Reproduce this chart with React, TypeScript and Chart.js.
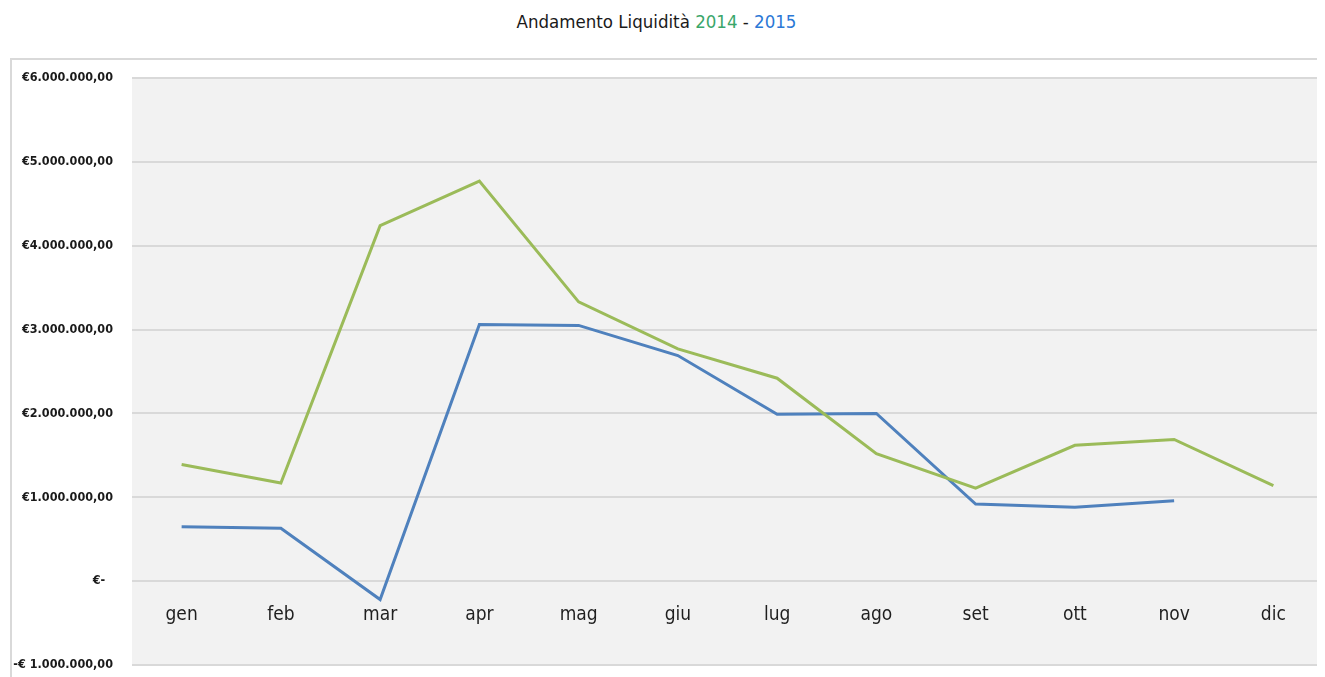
import { useEffect, useRef } from 'react';
import { Chart, registerables } from 'chart.js';

Chart.register(...registerables);

const categories = ['gen', 'feb', 'mar', 'apr', 'mag', 'giu', 'lug', 'ago', 'set', 'ott', 'nov', 'dic'];
const liquidity2014 = [1390000, 1170000, 4240000, 4770000, 3330000, 2770000, 2420000, 1520000, 1110000, 1620000, 1690000, 1140000];
const liquidity2015 = [650000, 630000, -220000, 3060000, 3050000, 2690000, 1990000, 2000000, 920000, 880000, 960000, null];
const yTickValues = [-1000000, 0, 1000000, 2000000, 3000000, 4000000, 5000000, 6000000];
const yTickLabels = ['-€ 1.000.000,00', '€-  ', '€1.000.000,00', '€2.000.000,00', '€3.000.000,00', '€4.000.000,00', '€5.000.000,00', '€6.000.000,00'];

const FONT = '"DejaVu Sans Condensed", "DejaVu Sans", sans-serif';

const plotBackground = {
  id: 'plotBackground',
  beforeDraw(chart: any) {
    const { ctx, chartArea } = chart;
    ctx.save();
    ctx.fillStyle = '#f2f2f2';
    ctx.fillRect(chartArea.left, chartArea.top, chartArea.right - chartArea.left, chartArea.bottom - chartArea.top);
    ctx.restore();
  },
};

export default function App() {
  const canvasRef = useRef<HTMLCanvasElement | null>(null);

  useEffect(() => {
    document.body.style.overflow = 'hidden';
    if (!canvasRef.current) return;
    const chart = new Chart(canvasRef.current, {
      type: 'line',
      data: {
        labels: categories,
        datasets: [
          {
            label: '2014',
            data: liquidity2014,
            borderColor: '#9bbb59',
            backgroundColor: '#9bbb59',
            borderWidth: 3,
            pointRadius: 0,
            tension: 0,
            fill: false,
          },
          {
            label: '2015',
            data: liquidity2015,
            borderColor: '#4f81bd',
            backgroundColor: '#4f81bd',
            borderWidth: 3,
            pointRadius: 0,
            tension: 0,
            fill: false,
            spanGaps: false,
          },
        ],
      },
      options: {
        animation: false,
        responsive: true,
        maintainAspectRatio: false,
        layout: { padding: { top: 18, bottom: 12, left: 0, right: 0 } },
        plugins: {
          legend: { display: false },
          tooltip: { enabled: false },
          title: { display: false },
        },
        scales: {
          x: {
            type: 'category',
            axis: 'x',
            offset: true,
            position: { y: 0 } as any,
            grid: { display: false, drawTicks: false },
            border: { display: false },
            ticks: {
              padding: 23,
              color: '#1f1f1f',
              font: { family: FONT, size: 19 },
            },
          },
          y: {
            min: -1000000,
            max: 6000000,
            afterFit: (scale: any) => {
              scale.width = 120;
            },
            ticks: {
              stepSize: 1000000,
              padding: 3,
              color: '#1a1a1a',
              font: { family: FONT, size: 12.5, weight: 'bold' },
              callback: (value: any) => {
                const i = yTickValues.indexOf(Number(value));
                return i >= 0 ? yTickLabels[i] : '';
              },
            },
            grid: {
              color: '#d9d9d9',
              lineWidth: 2,
              drawTicks: true,
              tickLength: 16,
              tickColor: 'rgba(0,0,0,0)',
            },
            border: { display: false },
          },
        },
      },
      plugins: [plotBackground],
    });
    return () => chart.destroy();
  }, []);

  return (
    <div>
      <div
        style={{
          height: 50,
          lineHeight: '28px',
          textAlign: 'center',
          fontFamily: FONT,
          fontSize: 18.5,
          color: '#1a1a1a',
          paddingRight: 12,
          boxSizing: 'border-box',
        }}
      >
        Andamento Liquidità <span style={{ color: '#3aa66a' }}>2014</span> - <span style={{ color: '#2b78d6' }}>2015</span>
      </div>
      <div
        style={{
          marginLeft: 2,
          width: 1315,
          height: 619,
          border: '2px solid #d9d9d9',
          borderBottom: 'none',
          boxSizing: 'border-box',
          position: 'relative',
        }}
      >
        <canvas ref={canvasRef} />
      </div>
    </div>
  );
}
